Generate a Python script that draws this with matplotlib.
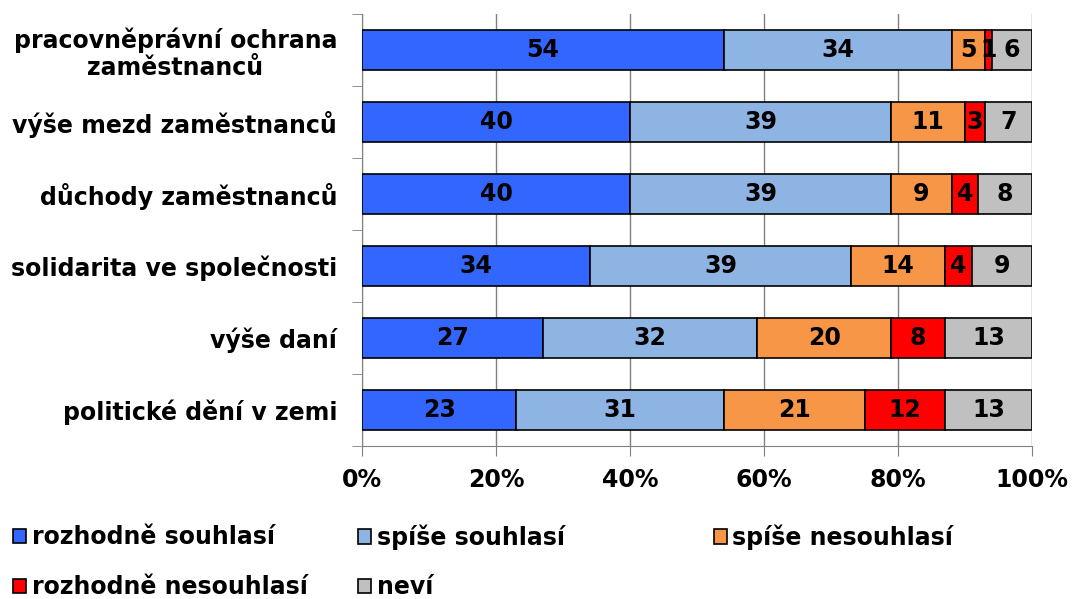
import matplotlib.pyplot as plt
import numpy as np

categories = ["pracovněprávní ochrana\nzaměstnanců", "výše mezd zaměstnanců",
              "důchody zaměstnanců", "solidarita ve společnosti",
              "výše daní", "politické dění v zemi"]
series_names = ["rozhodně souhlasí", "spíše souhlasí", "spíše nesouhlasí",
                "rozhodně nesouhlasí", "neví"]
rozhodne_souhlasi = [54, 40, 40, 34, 27, 23]
spise_souhlasi = [34, 39, 39, 39, 32, 31]
spise_nesouhlasi = [5, 11, 9, 14, 20, 21]
rozhodne_nesouhlasi = [1, 3, 4, 4, 8, 12]
nevi = [6, 7, 8, 9, 13, 13]
colors = ["#3366FF", "#8EB4E3", "#F79646", "#FF0000", "#C0C0C0"]

plt.rcParams['font.family'] = ['DejaVu Sans']
plt.rcParams['font.weight'] = 'bold'

fig = plt.figure(figsize=(10.73, 5.99), dpi=100)
ax = fig.add_axes([0.3374, 0.2554, 0.6244, 0.7212])

data = np.array([rozhodne_souhlasi, spise_souhlasi, spise_nesouhlasi,
                 rozhodne_nesouhlasi, nevi], dtype=float)
y = np.arange(len(categories))
left = np.zeros(len(categories))
for vals, name, col in zip(data, series_names, colors):
    ax.barh(y, vals, left=left, height=0.56, color=col, edgecolor="black",
            linewidth=1.2, label=name, zorder=3)
    for yi, l, v in zip(y, left, vals):
        ax.text(l + v / 2, yi, f"{int(v)}", ha="center", va="center",
                fontsize=17, fontweight="bold", zorder=4)
    left += vals

ax.set_xlim(0, 100)
ax.set_ylim(len(categories) - 0.5, -0.5)
ax.set_xticks(np.arange(0, 101, 20))
ax.set_xticklabels([f"{v}%" for v in range(0, 101, 20)], fontsize=17, fontweight="bold")
ax.set_yticks(y)
ax.set_yticklabels(categories, fontsize=17, fontweight="bold", linespacing=1.15)
for t in ax.get_yticklabels():
    t.set_multialignment("center")
ax.set_yticks(np.arange(-0.5, len(categories)), minor=True)
ax.tick_params(axis="y", which="major", length=0, pad=18)
ax.tick_params(axis="y", which="minor", length=7, color="#808080", direction="out")
ax.tick_params(axis="x", length=7, color="#808080", pad=9)
ax.grid(axis="x", color="#808080", linewidth=1, zorder=0)
for s in ["top", "right"]:
    ax.spines[s].set_visible(False)
ax.spines["left"].set_color("#808080")
ax.spines["bottom"].set_color("#808080")

# legend laid out by hand, row by row, like the original
handles, labels = ax.get_legend_handles_labels()
slots = [(0.012, 1 - 537 / 599), (0.334, 1 - 537 / 599), (0.665, 1 - 537 / 599),
         (0.012, 1 - 587 / 599), (0.334, 1 - 587 / 599)]
for i, (xpos, ypos) in enumerate(slots):
    leg = fig.legend([handles[i]], [labels[i]], loc="center left",
                     bbox_to_anchor=(xpos, ypos), frameon=False, fontsize=17,
                     handlelength=0.55, handleheight=0.55, handletextpad=0.25,
                     borderpad=0, borderaxespad=0)

fig.savefig("out.png", dpi=100)
